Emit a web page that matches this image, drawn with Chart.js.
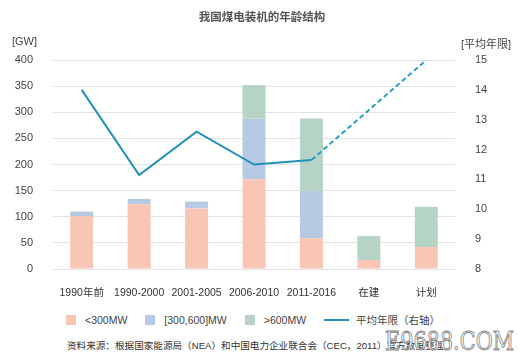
<!DOCTYPE html>
<html>
<head>
<meta charset="utf-8">
<script src="https://cdn.jsdelivr.net/npm/chart.js@4/dist/chart.umd.min.js"></script>
<style>
  html, body { margin: 0; padding: 0; background: #fff; }
  body { width: 519px; height: 360px; position: relative; overflow: hidden;
         font-family: "Liberation Sans", "Noto Sans CJK SC", sans-serif; color: #444; }
  #wrap { position: absolute; left: 0; top: 0; width: 519px; height: 300px; }
  .abs { position: absolute; white-space: nowrap; }
  #title { left: 0; width: 524px; top: 8px; text-align: center; font-size: 11.5px; font-weight: bold;
           font-family: "Noto Sans CJK SC", sans-serif; color: #555; }
  #unitL { left: 12px; top: 35px; font-size: 11px; color: #444; }
  #unitR { left: 461px; top: 35px; font-size: 11px; color: #444; }
  #legend { left: 66px; top: 312px; font-size: 10.5px; color: #444; display: flex; align-items: center; }
  #legend .sw { display: inline-block; width: 10px; height: 10px; margin-right: 9px; }
  #legend .ln { display: inline-block; width: 25px; height: 2px; margin-right: 7px; }
  #legend .it { display: flex; align-items: center; margin-right: 18px; }
  #source { left: 67px; top: 338px; font-size: 9.6px; color: #333; }
  #mark { left: 385px; top: 326px; font-size: 26px; color: #fff; font-family: "DejaVu Serif", serif;
          -webkit-text-stroke: 1px #8a8a8a; transform: scaleX(0.8); transform-origin: left top; }
</style>
</head>
<body>
<div id="wrap"><canvas id="c" width="519" height="300"></canvas></div>
<div id="title" class="abs">我国煤电装机的年龄结构</div>
<div id="unitL" class="abs">[GW]</div>
<div id="unitR" class="abs">[平均年限]</div>
<div id="legend" class="abs"></div>
<div id="source" class="abs">资料来源：根据国家能源局（NEA）和中国电力企业联合会（CEC，2011）官方数据整理</div>
<div id="mark" class="abs">E9688.COM</div>
<script>
  // Categories (age groups of coal units)
  const categories = ['1990年前', '1990-2000', '2001-2005', '2006-2010', '2011-2016', '在建', '计划'];
  // Installed capacity by unit size, GW
  const small = [101, 124, 116, 172, 59, 17, 42];   // <300MW
  const mid = [9, 10, 13, 116, 91, 0, 0];           // [300,600]MW
  const large = [0, 0, 0, 64, 138, 46, 77];         // >600MW
  // Average age, years (right axis); 在建 has no point
  const avgAge = [14.0, 11.15, 12.6, 11.5, 11.65, null, 15.0];

  const leftTicks = [0, 50, 100, 150, 200, 250, 300, 350, 400];
  const rightTicks = [8, 9, 10, 11, 12, 13, 14, 15];

  const colors = {
    small: '#f9c6b6',
    mid: '#b6cbe3',
    large: '#b5d4c6',
    line: '#2290b8'
  };

  const tickFont = { family: '"Liberation Sans", "Noto Sans CJK SC", sans-serif', size: 11 };
  const catFont = { family: '"Liberation Sans", "Noto Sans CJK SC", sans-serif', size: 10.5 };

  // HTML legend
  const legendItems = [
    { label: '<300MW', color: colors.small },
    { label: '[300,600]MW', color: colors.mid },
    { label: '>600MW', color: colors.large },
    { label: '平均年限（右轴）', color: colors.line, line: true }
  ];
  document.getElementById('legend').innerHTML = legendItems.map(it =>
    `<span class="it"><span class="${it.line ? 'ln' : 'sw'}" style="background:${it.color}"></span>${it.label.replace('<', '&lt;')}</span>`
  ).join('');

  new Chart(document.getElementById('c'), {
    data: {
      labels: categories,
      datasets: [
        {
          type: 'line',
          label: '平均年限（右轴）',
          data: avgAge,
          yAxisID: 'y1',
          borderColor: colors.line,
          borderWidth: 2,
          pointRadius: 0,
          tension: 0,
          spanGaps: true,
          order: 0,
          segment: {
            borderDash: ctx => ctx.p0DataIndex >= 4 ? [5, 3] : undefined,
            borderColor: ctx => ctx.p0DataIndex >= 4 ? '#2f9ec6' : undefined
          }
        },
        { type: 'bar', label: '<300MW', data: small, backgroundColor: colors.small, yAxisID: 'y', order: 1 },
        { type: 'bar', label: '[300,600]MW', data: mid, backgroundColor: colors.mid, yAxisID: 'y', order: 1 },
        { type: 'bar', label: '>600MW', data: large, backgroundColor: colors.large, yAxisID: 'y', order: 1 }
      ]
    },
    options: {
      responsive: false,
      animation: false,
      layout: { padding: { top: 60, left: 0, right: 0, bottom: 0 } },
      datasets: { bar: { barPercentage: 0.4, categoryPercentage: 1.0 } },
      plugins: { legend: { display: false }, tooltip: { enabled: false } },
      scales: {
        x: {
          stacked: true,
          grid: { display: false },
          border: { display: false },
          ticks: { color: '#333', font: catFont, padding: 10, maxRotation: 0, autoSkip: false },
          afterFit: s => { s.height = 31; }
        },
        y: {
          position: 'left',
          stacked: true,
          min: 0,
          max: 400,
          afterBuildTicks: s => { s.ticks = leftTicks.map(v => ({ value: v })); },
          grid: { color: '#e3e3e3', lineWidth: 1, drawTicks: false },
          border: { display: false },
          ticks: { color: '#444', font: tickFont, padding: 20 },
          afterFit: s => { s.width = 53; }
        },
        y1: {
          position: 'right',
          min: 8,
          max: 15,
          afterBuildTicks: s => { s.ticks = rightTicks.map(v => ({ value: v })); },
          grid: { display: false, drawTicks: false },
          border: { display: false },
          ticks: { color: '#444', font: tickFont, padding: 20 },
          afterFit: s => { s.width = 64; }
        }
      }
    }
  });
</script>
</body>
</html>
